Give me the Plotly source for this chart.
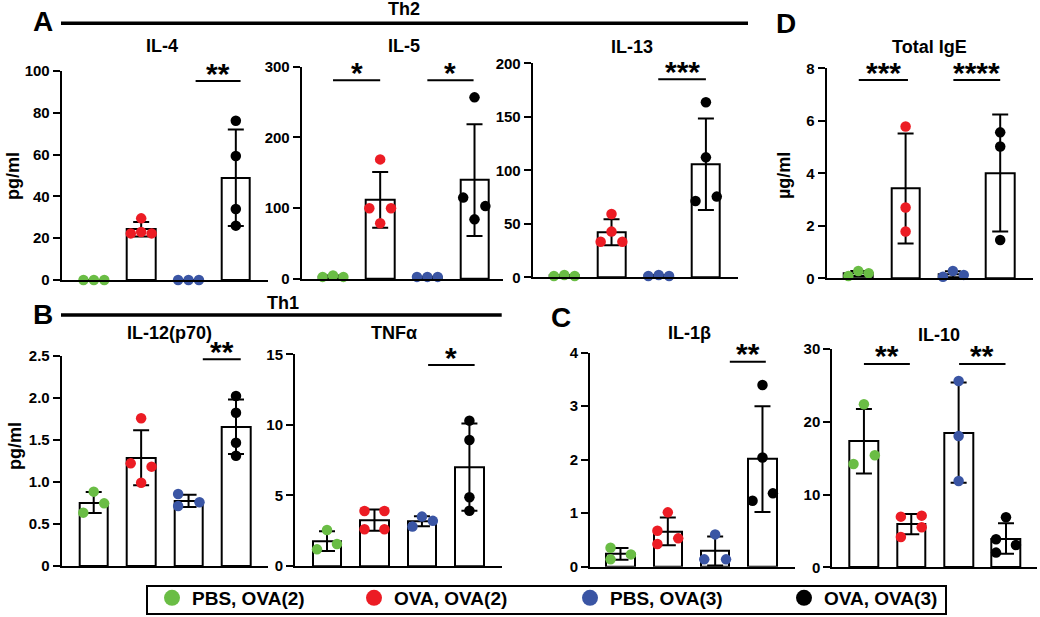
import numpy as np
import plotly.graph_objects as go

W, H = 1040, 617
FONT = "Liberation Sans, Arial, sans-serif"

# ---------------- data ----------------
groups = ["PBS, OVA(2)", "OVA, OVA(2)", "PBS, OVA(3)", "OVA, OVA(3)"]
colors = ["#6ABD45", "#EC1C24", "#3A55A4", "#000000"]

panel_titles = ["IL-4", "IL-5", "IL-13", "Total IgE", "IL-12(p70)", "TNFα", "IL-1β", "IL-10"]

# individual values per group (green, red, blue, black)
il4 = [[0, 0, 0], [29.5, 23, 22.3, 22.3], [0, 0, 0], [76.2, 59.3, 34, 26]]
il5 = [[3, 5, 3], [169, 100, 100, 78.7], [3, 3, 3], [256.7, 115, 103, 84.3]]
il13 = [[1.2, 2.2, 1.2], [59.2, 42.7, 33.3, 33.3], [1.2, 2.2, 1.2], [163.6, 112.1, 71.3, 75.4]]
ige = [[0.09, 0.28, 0.19], [5.78, 2.7, 1.78], [0.06, 0.28, 0.13], [5.56, 5.02, 1.46]]
il12 = [[0.885, 0.635, 0.746], [1.758, 1.222, 1.183, 0.992], [0.857, 0.714, 0.758], [2.024, 1.825, 1.468, 1.313]]
tnfa = [[2.55, 1.18, 1.56], [3.9, 3.9, 2.6, 2.6], [2.8, 3.5, 3.2], [10.3, 8.93, 4.87, 3.92]]
il1b = [[0.355, 0.137, 0.23], [1.016, 0.673, 0.53, 0.424], [0.604, 0.137, 0.137], [3.396, 2.04, 1.234, 1.371]]
il10 = [[22.4, 14.2, 15.4], [6.96, 7.1, 5.5, 4.17], [25.6, 18.05, 11.86], [6.87, 3.85, 3.07, 2.02]]
panel_values = [il4, il5, il13, ige, il12, tnfa, il1b, il10]

# horizontal scatter spread of the dots (category units)
jit4 = [[-0.22, 0, 0.22], [0, 0, -0.22, 0.22], [-0.22, 0, 0.22], [0, 0, 0, 0]]
jit5 = [[-0.22, 0, 0.22], [0, -0.23, 0.23, 0], [-0.22, 0, 0.22], [0, -0.24, 0.23, 0]]
jit13 = [[-0.22, 0, 0.22], [0, 0, -0.23, 0.23], [-0.22, 0, 0.22], [0, 0, -0.22, 0.23]]
jitige = [[-0.21, 0, 0.22], [0, 0, 0], [-0.21, 0, 0.23], [0, 0, 0]]
jit12 = [[0, -0.22, 0.22], [0, -0.22, 0.22, 0], [-0.22, -0.22, 0.23], [0, 0, 0, 0]]
jittnf = [[0, -0.21, 0.21], [-0.21, 0.21, -0.21, 0.21], [-0.2, 0, 0.23], [0, 0, 0, 0]]
jit1b = [[-0.21, -0.21, 0.22], [0, -0.22, 0.22, -0.22], [0, -0.23, 0.23], [0, 0, -0.21, 0.22]]
jit10 = [[0, -0.22, 0.23], [-0.22, 0.22, 0.22, -0.22], [0, 0, 0], [0, -0.21, 0.21, -0.21]]
panel_jitter = [jit4, jit5, jit13, jitige, jit12, jittnf, jit1b, jit10]

y_max = [100, 300, 200, 8, 2.5, 15, 4, 30]
tick_vals = [[0, 20, 40, 60, 80, 100], [0, 100, 200, 300], [0, 50, 100, 150, 200], [0, 2, 4, 6, 8],
             [0, 0.5, 1.0, 1.5, 2.0, 2.5], [0, 5, 10, 15], [0, 1, 2, 3, 4], [0, 10, 20, 30]]
tick_text = [["0", "20", "40", "60", "80", "100"], ["0", "100", "200", "300"], ["0", "50", "100", "150", "200"],
             ["0", "2", "4", "6", "8"], ["0", "0.5", "1.0", "1.5", "2.0", "2.5"], ["0", "5", "10", "15"],
             ["0", "1", "2", "3", "4"], ["0", "10", "20", "30"]]

# significance brackets: (from, to, height, label)
sig_marks = [
    [(2.15, 3.1, 95.2, "**")],
    [(0.0, 1.0, 281, "*"), (2.0, 2.98, 281, "*")],
    [(1.99, 3.0, 185, "***")],
    [(0.01, 1.05, 7.55, "***"), (2.01, 3.0, 7.55, "****")],
    [(2.3, 3.1, 2.46, "**")],
    [(2.13, 3.11, 14.24, "*")],
    [(2.31, 3.07, 3.83, "**")],
    [(0.0, 0.97, 27.94, "**"), (2.01, 2.99, 27.94, "**")],
]

# ---------------- geometry (pixels) ----------------
# left, right, y of zero, y of top, x-pad left, x-pad right (category units)
geom = [
    (61.7, 268, 280, 71, 0.68, 0.68),
    (301.7, 503, 279, 66.7, 0.664, 0.604),
    (532.7, 738, 277.3, 63.3, 0.67, 0.68),
    (826.7, 1032.7, 278.3, 68.3, 0.668, 0.687),
    (61.7, 268, 566, 356, 0.675, 0.675),
    (295, 501.7, 566, 354.3, 0.674, 0.68),
    (590, 795, 566.7, 352.7, 0.644, 0.687),
    (832.3, 1037, 567.3, 349, 0.668, 0.655),
]
title_pos = [(162, 46), (404, 46), (632, 47), (929, 47.5), (169, 333), (394, 333), (689, 333), (939, 335)]


def px(x):
    return x / W


def py(y):
    return 1 - y / H


fig = go.Figure()
layout = dict(width=W, height=H, margin=dict(l=0, r=0, t=0, b=0, autoexpand=False), autosize=False,
              paper_bgcolor="white", plot_bgcolor="white", showlegend=True,
              font=dict(family=FONT, color="black"), bargap=0)
annotations = []
shapes = []

for i in range(8):
    n = "" if i == 0 else str(i + 1)
    xa, ya = "x" + n, "y" + n
    left, right, ybot, ytop, pa, pb = geom[i]
    vals = panel_values[i]
    means = [float(np.mean(v)) for v in vals]
    sds = [float(np.std(v, ddof=1)) for v in vals]
    fig.add_trace(go.Bar(
        x=[0, 1, 2, 3], y=means, width=0.6, xaxis=xa, yaxis=ya, showlegend=False,
        marker=dict(color="white", line=dict(color="black", width=2)),
        error_y=dict(type="data", array=sds, symmetric=True, color="black", thickness=2, width=8),
        hoverinfo="skip"))
    for g in range(4):
        fig.add_trace(go.Scatter(
            x=[g + j for j in panel_jitter[i][g]], y=vals[g], mode="markers",
            marker=dict(color=colors[g], size=10.5, line=dict(width=0)),
            cliponaxis=False, xaxis=xa, yaxis=ya, showlegend=False))
    layout["xaxis" + n] = dict(domain=[px(left), px(right)], range=[-pa, 3 + pb], anchor=ya,
                               showline=True, linecolor="black", linewidth=2, ticks="",
                               showticklabels=False, showgrid=False, zeroline=False, fixedrange=True)
    layout["yaxis" + n] = dict(domain=[py(ybot), py(ytop)], range=[0, y_max[i]], anchor=xa,
                               showline=True, linecolor="black", linewidth=2, ticks="outside",
                               ticklen=7, tickwidth=2, tickcolor="black",
                               tickvals=tick_vals[i], ticktext=tick_text[i],
                               tickfont=dict(family=FONT, size=15, color="black", weight="bold"),
                               showgrid=False, zeroline=False, fixedrange=True)
    tx, ty = title_pos[i]
    annotations.append(dict(text=panel_titles[i], x=px(tx), y=py(ty), xref="paper", yref="paper",
                            showarrow=False, xanchor="center", yanchor="middle",
                            font=dict(family=FONT, size=18, color="black", weight="bold")))
    for (x0, x1, yv, lab) in sig_marks[i]:
        shapes.append(dict(type="line", xref=xa, yref=ya, x0=x0, x1=x1, y0=yv, y1=yv,
                           line=dict(color="black", width=2)))
        annotations.append(dict(text=lab, x=(x0 + x1) / 2, y=yv, xref=xa, yref=ya, showarrow=False,
                                xanchor="center", yanchor="middle", yshift=8,
                                font=dict(family=FONT, size=30, color="black", weight="bold")))

# panel letters
for lab, (lx, ly) in zip(["A", "B", "C", "D"], [(43, 22), (43, 314), (561, 317.5), (786, 24)]):
    annotations.append(dict(text=lab, x=px(lx), y=py(ly), xref="paper", yref="paper", showarrow=False,
                            xanchor="center", yanchor="middle",
                            font=dict(family=FONT, size=28, color="black", weight="bold")))

# Th2 / Th1 headers
for lab, (x0, x1, yl), (tx, ty) in [("Th2", (61, 748, 23.3), (404, 9.5)), ("Th1", (61, 501.7, 315), (283, 302.5))]:
    shapes.append(dict(type="line", xref="paper", yref="paper", x0=px(x0), x1=px(x1), y0=py(yl), y1=py(yl),
                       line=dict(color="black", width=3.5)))
    annotations.append(dict(text=lab, x=px(tx), y=py(ty), xref="paper", yref="paper", showarrow=False,
                            xanchor="center", yanchor="middle",
                            font=dict(family=FONT, size=18, color="black", weight="bold")))

# y-axis titles
for lab, (tx, ty) in [("pg/ml", (13, 176)), ("pg/ml", (15, 446)), ("µg/ml", (784, 176))]:
    annotations.append(dict(text=lab, x=px(tx), y=py(ty), xref="paper", yref="paper", showarrow=False,
                            xanchor="center", yanchor="middle", textangle=-90,
                            font=dict(family=FONT, size=18, color="black", weight="bold")))

# legend frame
shapes.append(dict(type="rect", xref="paper", yref="paper", x0=px(147), x1=px(946), y0=py(614), y1=py(586),
                   line=dict(color="black", width=2), fillcolor="rgba(0,0,0,0)"))

# legend entries
legend_widths = [157, 171, 169, 125]
for g in range(4):
    fig.add_trace(go.Scatter(x=[None], y=[None], mode="markers", name=groups[g],
                             marker=dict(color=colors[g], size=16), legendwidth=legend_widths[g],
                             xaxis="x", yaxis="y", showlegend=True))

layout["legend"] = dict(orientation="h", x=px(152), y=0, xanchor="left", yanchor="bottom",
                        borderwidth=0, bgcolor="rgba(0,0,0,0)", itemsizing="trace",
                        entrywidthmode="pixels",
                        font=dict(family=FONT, size=19, color="black", weight="bold"))
layout["annotations"] = annotations
layout["shapes"] = shapes
fig.update_layout(**layout)

ps = ("document.body.style.margin='0';"
      "var gd=document.getElementById('{plot_id}');"
      "Plotly.relayout(gd, {'paper_bgcolor': 'white'});")
fig.write_html("out.html", config={"displayModeBar": False}, post_script=ps)
